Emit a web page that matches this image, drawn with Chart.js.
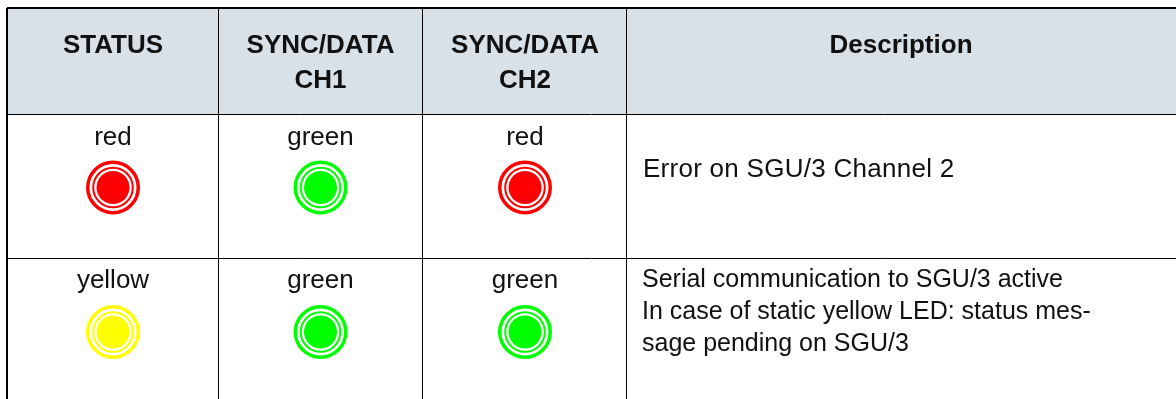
<!DOCTYPE html>
<html>
<head>
<meta charset="utf-8">
<title>LED status table</title>
<style>
  html, body { margin: 0; padding: 0; background: #fff; overflow: hidden; }
  canvas { display: block; }
</style>
<script src="https://cdn.jsdelivr.net/npm/chart.js@4/dist/chart.umd.js"></script>
</head>
<body>
<canvas id="chart" width="1176" height="399"></canvas>
<script>
const HEADERS = [['STATUS'], ['SYNC/DATA', 'CH1'], ['SYNC/DATA', 'CH2'], ['Description']];
const STATUS_LED = ['red', 'yellow'];
const CH1_LED = ['green', 'green'];
const CH2_LED = ['red', 'green'];
const DESCRIPTIONS = [
  ['Error on SGU/3 Channel 2'],
  ['Serial communication to SGU/3 active', 'In case of static yellow LED: status mes-', 'sage pending on SGU/3']
];

const LED_COLUMNS = [STATUS_LED, CH1_LED, CH2_LED];
const LED_COLORS = { red: '#ff0000', green: '#00ff00', yellow: '#ffff00' };

// table geometry, in canvas pixels (the axes below run 1:1 with the canvas)
const COL_EDGES = [7, 218, 422, 626];
const ROW_EDGES = [8, 114, 258];
const LED_CENTERS_X = [113, 320.5, 525];
const LED_CENTERS_Y = [187.5, 332];
const FONT = '"Liberation Sans", Arial, sans-serif';

const ledPoints = [];
const ledColors = [];
LED_COLUMNS.forEach((col, c) => col.forEach((name, r) => {
  ledPoints.push({ x: LED_CENTERS_X[c], y: LED_CENTERS_Y[r] });
  ledColors.push(LED_COLORS[name]);
}));

function ledLayer(label, radius, borderWidth, filled) {
  return {
    label,
    data: ledPoints,
    pointStyle: 'circle',
    pointRadius: radius,
    pointHoverRadius: radius,
    pointBorderWidth: borderWidth,
    pointBorderColor: ledColors,
    pointBackgroundColor: filled ? ledColors : 'rgba(0,0,0,0)',
    showLine: false,
    clip: false
  };
}

const tablePlugin = {
  id: 'table',
  beforeDraw(chart) {
    const { ctx, scales: { x, y } } = chart;
    ctx.save();
    ctx.fillStyle = '#d9e1e8';
    ctx.fillRect(x.getPixelForValue(COL_EDGES[0]), y.getPixelForValue(ROW_EDGES[0]),
      x.right - x.getPixelForValue(COL_EDGES[0]), y.getPixelForValue(ROW_EDGES[1]) - y.getPixelForValue(ROW_EDGES[0]));
    ctx.restore();
  },
  afterDraw(chart) {
    const { ctx, scales: { x, y } } = chart;
    const lineHeight = 35;
    ctx.save();
    ctx.textBaseline = 'alphabetic';

    ctx.font = 'bold 26px ' + FONT;
    ctx.fillStyle = '#111';
    ctx.textAlign = 'center';
    HEADERS.forEach((lines, c) => {
      const cx = c < 3 ? LED_CENTERS_X[c] : 901;
      lines.forEach((line, i) => ctx.fillText(line, x.getPixelForValue(cx), y.getPixelForValue(53 + i * lineHeight)));
    });

    ctx.font = '26px ' + FONT;
    LED_COLUMNS.forEach((col, c) => col.forEach((name, r) => {
      ctx.fillText(name, x.getPixelForValue(LED_CENTERS_X[c]), y.getPixelForValue(r === 0 ? 145 : 288));
    }));

    ctx.textAlign = 'left';
    ctx.letterSpacing = '0.27px';
    DESCRIPTIONS[0].forEach(line => ctx.fillText(line, x.getPixelForValue(643), y.getPixelForValue(177)));
    ctx.letterSpacing = '0px';
    ctx.font = '25px ' + FONT;
    DESCRIPTIONS[1].forEach((line, i) => ctx.fillText(line, x.getPixelForValue(642), y.getPixelForValue(287 + i * 32)));
    ctx.restore();
  }
};

new Chart(document.getElementById('chart'), {
  type: 'scatter',
  data: {
    datasets: [
      ledLayer('ring outer', 25.25, 3.5, false),
      ledLayer('ring inner', 19.8, 2, false),
      ledLayer('core', 16.5, 0, true)
    ]
  },
  options: {
    responsive: false,
    animation: false,
    layout: { autoPadding: false, padding: { left: 7, top: 8, right: 0, bottom: 0 } },
    scales: {
      x: {
        type: 'linear', min: 7, max: 1176, position: 'bottom',
        afterBuildTicks: s => { s.ticks = COL_EDGES.map(value => ({ value })); },
        ticks: { display: false },
        border: { display: false },
        grid: { color: '#000', lineWidth: c => (c.tick && c.tick.value === COL_EDGES[0] ? 2 : 1), drawTicks: false }
      },
      y: {
        type: 'linear', min: 8, max: 399, reverse: true, position: 'left',
        afterBuildTicks: s => { s.ticks = ROW_EDGES.map(value => ({ value })); },
        ticks: { display: false },
        border: { display: false },
        grid: { color: '#000', lineWidth: c => (c.tick && c.tick.value === ROW_EDGES[0] ? 2 : 1), drawTicks: false }
      }
    },
    plugins: { legend: { display: false }, tooltip: { enabled: false } }
  },
  plugins: [tablePlugin]
});
</script>
</body>
</html>
